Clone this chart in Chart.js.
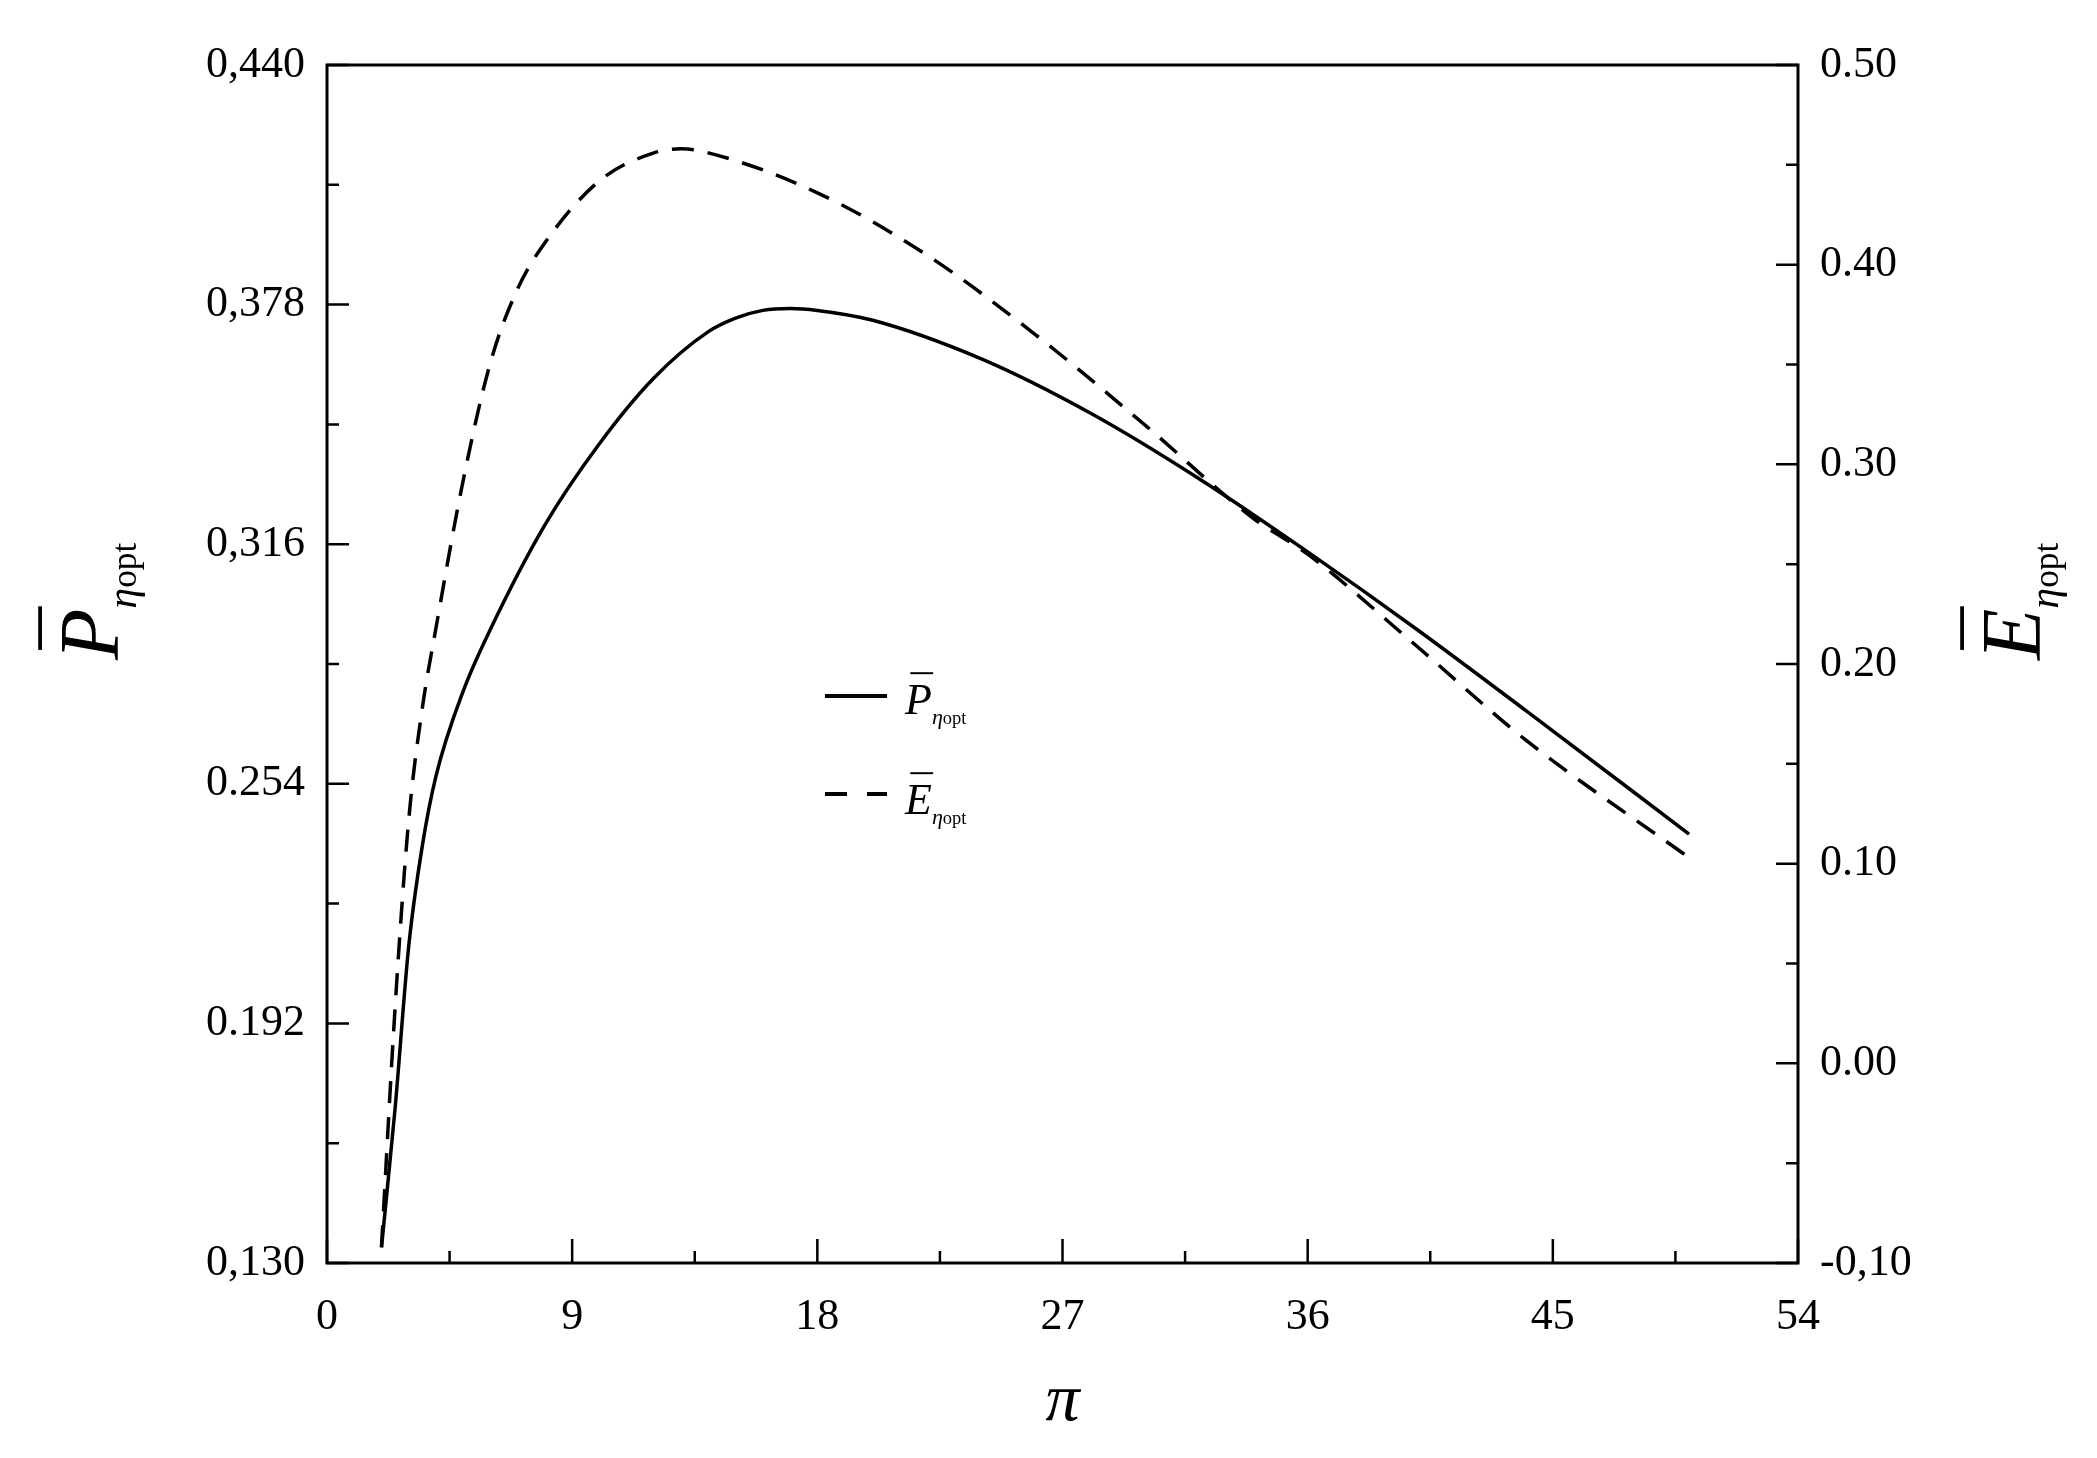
<!DOCTYPE html><html><head><script src="https://cdn.jsdelivr.net/npm/chart.js"></script>
<style>body{margin:0;background:#fff}#w{width:2097px;height:1458px}</style></head><body><div id="w"><canvas id="c"></canvas></div>
<script>
const piP=[2,2.5,3,3.5,4,5,6,8,10,12,14,15,16,17,18,20,24,28,32,36,40,44,50];
const valP=[0.134,0.170,0.212,0.238,0.256,0.278,0.294,0.321,0.342,0.359,0.371,0.3745,0.3765,0.377,0.3765,0.374,0.364,0.350,0.333,0.314,0.294,0.273,0.241];
const piE=[2,2.5,3,3.5,4,5,6,7,8,10,12,13,14,18,22,26,30,34,36,40,44,50];
const valE=[-0.092,0.028,0.122,0.178,0.218,0.292,0.351,0.388,0.411,0.442,0.456,0.458,0.456,0.436,0.405,0.365,0.320,0.273,0.255,0.209,0.162,0.103];
const xTicks=[0,9,18,27,36,45,54];
const leftTicks=[0.130,0.192,0.254,0.316,0.378,0.440];
const leftLabels=['0,130','0.192','0.254','0,316','0,378','0,440'];
const rightTicks=[-0.1,0,0.1,0.2,0.3,0.4,0.5];
const rightLabels=['-0,10','0.00','0.10','0.20','0.30','0.40','0.50'];
const F='"Liberation Serif", serif';
function titleSym(ctx,x,y,ch,size){
  ctx.font='italic '+size+'px '+F;ctx.textAlign='left';ctx.textBaseline='alphabetic';
  const w=ctx.measureText(ch).width;ctx.fillText(ch,x,y);
  ctx.fillRect(x+size*0.12,y-size*0.95,w*0.85,size*0.045);
  ctx.font='italic '+(size*0.5)+'px '+F;ctx.fillText('η',x+w,y+size*0.22);
  const w2=ctx.measureText('η').width;
  ctx.font=(size*0.42)+'px '+F;ctx.fillText('opt',x+w+w2,y+size*0.22);
}
const deco={id:'deco',afterDraw(ch){
  const c=ch.ctx,a=ch.chartArea,x=ch.scales.x,yl=ch.scales.yl,yr=ch.scales.yr;
  c.save();c.fillStyle='#000';c.strokeStyle='#000';c.lineWidth=3;
  c.strokeRect(a.left,a.top,a.right-a.left,a.bottom-a.top);
  c.lineWidth=2.5;c.beginPath();
  for(let v=0;v<=54;v+=4.5){const p=x.getPixelForValue(v),L=(v%9===0)?24:12;c.moveTo(p,a.bottom);c.lineTo(p,a.bottom-L);}
  for(let i=0;i<=10;i++){const v=0.13+0.031*i,p=yl.getPixelForValue(v),L=i%2===0?22:12;c.moveTo(a.left,p);c.lineTo(a.left+L,p);}
  for(let i=0;i<=12;i++){const v=-0.1+0.05*i,p=yr.getPixelForValue(v),L=i%2===0?22:12;c.moveTo(a.right,p);c.lineTo(a.right-L,p);}
  c.stroke();
  c.font='italic 68px '+F;c.textAlign='center';c.fillText('π',(a.left+a.right)/2,1420);
  c.save();c.translate(118,660);c.rotate(-Math.PI/2);titleSym(c,0,0,'P',84);c.restore();
  c.save();c.translate(2040,660);c.rotate(-Math.PI/2);titleSym(c,0,0,'E',84);c.restore();
  c.lineWidth=4;c.beginPath();c.moveTo(825,696);c.lineTo(887,696);c.stroke();
  c.setLineDash([22,20]);c.beginPath();c.moveTo(825,794);c.lineTo(887,794);c.stroke();c.setLineDash([]);
  titleSym(c,905,714,'P',44);titleSym(c,905,814,'E',44);
  c.restore();}};
new Chart(document.getElementById('c'),{type:'line',
 data:{datasets:[
  {data:piP.map((v,i)=>({x:v,y:valP[i]})),yAxisID:'yl',borderColor:'#000',borderWidth:3.5,pointRadius:0,cubicInterpolationMode:'monotone'},
  {data:piE.map((v,i)=>({x:v,y:valE[i]})),yAxisID:'yr',borderColor:'#000',borderWidth:3.5,borderDash:[22,14],pointRadius:0,cubicInterpolationMode:'monotone'}]},
 options:{responsive:true,maintainAspectRatio:false,animation:false,
  layout:{padding:{top:65,left:0,right:0,bottom:0}},
  plugins:{legend:{display:false},tooltip:{enabled:false}},
  scales:{
   x:{type:'linear',min:0,max:54,grid:{display:false},border:{display:false},
      afterBuildTicks:s=>{s.ticks=xTicks.map(v=>({value:v}))},afterFit:s=>{s.height=195},
      ticks:{color:'#000',font:{family:F,size:44},padding:20,maxRotation:0}},
   yl:{position:'left',min:0.13,max:0.44,grid:{display:false},border:{display:false},
      afterBuildTicks:s=>{s.ticks=leftTicks.map(v=>({value:v}))},afterFit:s=>{s.width=327},
      ticks:{color:'#000',font:{family:F,size:44},padding:14,callback:(v,i)=>leftLabels[i]}},
   yr:{position:'right',min:-0.1,max:0.5,grid:{display:false},border:{display:false},
      afterBuildTicks:s=>{s.ticks=rightTicks.map(v=>({value:v}))},afterFit:s=>{s.width=299},
      ticks:{color:'#000',font:{family:F,size:44},padding:14,callback:(v,i)=>rightLabels[i]}}}},
 plugins:[deco]});
</script></body></html>
